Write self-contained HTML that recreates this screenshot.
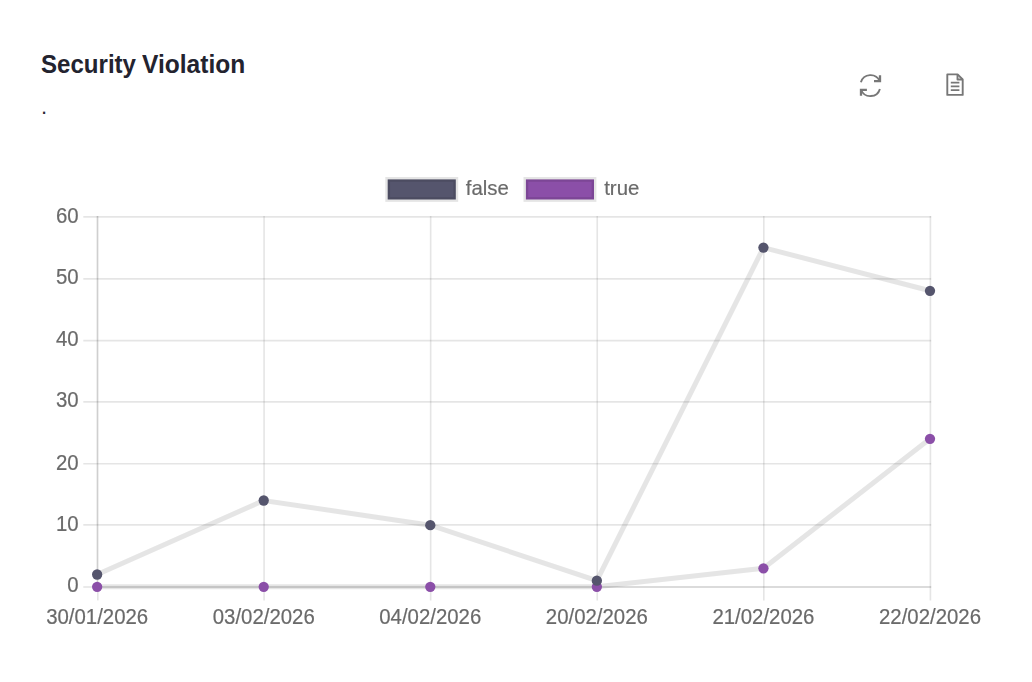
<!DOCTYPE html>
<html><head><meta charset="utf-8"><title>Security Violation</title>
<style>
html,body{margin:0;padding:0;background:#fff;}
body{width:1032px;height:682px;position:relative;overflow:hidden;font-family:"Liberation Sans",sans-serif;}
.chart{position:absolute;left:0;top:0;will-change:transform;}
.t{font-family:"Liberation Sans",sans-serif;font-size:20.4px;fill:#6a6a6a;stroke:#6a6a6a;stroke-width:0.2px;}
h1{position:absolute;left:0;top:0;margin:0;font-size:26.67px;line-height:32px;font-weight:bold;color:#23232f;white-space:nowrap;}
h1 span{position:absolute;top:48px;display:block;transform-origin:0 0;}
.w1{left:41.2px;transform:scaleX(0.903);}
.w2{left:142.4px;transform:scaleX(0.921);}
.dot{position:absolute;left:41px;top:92.2px;margin:0;font-size:22px;line-height:30px;color:#2a2a36;}
</style></head><body>
<h1><span class="w1">Security</span><span class="w2">Violation</span></h1>
<p class="dot">.</p>
<svg width="1032" height="682" viewBox="0 0 1032 682" class="chart">
<line x1="83.3" x2="96.67" y1="587.00" y2="587.00" stroke="rgba(0,0,0,0.1)" stroke-width="1.667"/>
<line x1="96.67" x2="931.23" y1="587.00" y2="587.00" stroke="rgba(0,0,0,0.19)" stroke-width="1.667"/>
<line x1="83.3" x2="931.23" y1="524.90" y2="524.90" stroke="rgba(0,0,0,0.1)" stroke-width="1.667"/>
<line x1="83.3" x2="931.23" y1="463.75" y2="463.75" stroke="rgba(0,0,0,0.1)" stroke-width="1.667"/>
<line x1="83.3" x2="931.23" y1="401.83" y2="401.83" stroke="rgba(0,0,0,0.1)" stroke-width="1.667"/>
<line x1="83.3" x2="931.23" y1="340.70" y2="340.70" stroke="rgba(0,0,0,0.1)" stroke-width="1.667"/>
<line x1="83.3" x2="931.23" y1="278.80" y2="278.80" stroke="rgba(0,0,0,0.1)" stroke-width="1.667"/>
<line x1="83.3" x2="931.23" y1="216.83" y2="216.83" stroke="rgba(0,0,0,0.1)" stroke-width="1.667"/>
<line x1="97.50" x2="97.50" y1="216.00" y2="587.83" stroke="rgba(0,0,0,0.19)" stroke-width="1.667"/>
<line x1="97.80" x2="97.80" y1="587.83" y2="600.4" stroke="rgba(0,0,0,0.1)" stroke-width="1.667"/>
<line x1="264.08" x2="264.08" y1="216.00" y2="600.4" stroke="rgba(0,0,0,0.1)" stroke-width="1.667"/>
<line x1="430.66" x2="430.66" y1="216.00" y2="600.4" stroke="rgba(0,0,0,0.1)" stroke-width="1.667"/>
<line x1="597.24" x2="597.24" y1="216.00" y2="600.4" stroke="rgba(0,0,0,0.1)" stroke-width="1.667"/>
<line x1="763.82" x2="763.82" y1="216.00" y2="600.4" stroke="rgba(0,0,0,0.1)" stroke-width="1.667"/>
<line x1="930.40" x2="930.40" y1="216.00" y2="600.4" stroke="rgba(0,0,0,0.1)" stroke-width="1.667"/>
<polyline points="97.15,586.85 263.72,586.85 430.29,586.85 596.86,586.85 763.43,568.35 930.00,438.82" fill="none" stroke="rgba(0,0,0,0.1)" stroke-width="5" stroke-linejoin="miter"/>
<circle cx="97.15" cy="586.85" r="5.15" fill="#8b4fa8"/>
<circle cx="263.72" cy="586.85" r="5.15" fill="#8b4fa8"/>
<circle cx="430.29" cy="586.85" r="5.15" fill="#8b4fa8"/>
<circle cx="596.86" cy="586.85" r="5.15" fill="#8b4fa8"/>
<circle cx="763.43" cy="568.35" r="5.15" fill="#8b4fa8"/>
<circle cx="930.00" cy="438.82" r="5.15" fill="#8b4fa8"/>
<polyline points="97.15,574.51 263.72,500.50 430.29,525.17 596.86,580.68 763.43,247.61 930.00,290.79" fill="none" stroke="rgba(0,0,0,0.1)" stroke-width="5" stroke-linejoin="miter"/>
<circle cx="97.15" cy="574.51" r="5.15" fill="#55556d"/>
<circle cx="263.72" cy="500.50" r="5.15" fill="#55556d"/>
<circle cx="430.29" cy="525.17" r="5.15" fill="#55556d"/>
<circle cx="596.86" cy="580.68" r="5.15" fill="#55556d"/>
<circle cx="763.43" cy="247.61" r="5.15" fill="#55556d"/>
<circle cx="930.00" cy="290.79" r="5.15" fill="#55556d"/>
<text transform="translate(78.7 591.60) scale(1 1.055)" text-anchor="end" class="t">0</text>
<text transform="translate(78.7 530.60) scale(1 1.055)" text-anchor="end" class="t">10</text>
<text transform="translate(78.7 469.60) scale(1 1.055)" text-anchor="end" class="t">20</text>
<text transform="translate(78.7 407.00) scale(1 1.055)" text-anchor="end" class="t">30</text>
<text transform="translate(78.7 345.60) scale(1 1.055)" text-anchor="end" class="t">40</text>
<text transform="translate(78.7 283.60) scale(1 1.055)" text-anchor="end" class="t">50</text>
<text transform="translate(78.7 222.60) scale(1 1.055)" text-anchor="end" class="t">60</text>
<text transform="translate(97.15 624.0) scale(1 1.055)" text-anchor="middle" class="t">30/01/2026</text>
<text transform="translate(263.72 624.0) scale(1 1.055)" text-anchor="middle" class="t">03/02/2026</text>
<text transform="translate(430.29 624.0) scale(1 1.055)" text-anchor="middle" class="t">04/02/2026</text>
<text transform="translate(596.86 624.0) scale(1 1.055)" text-anchor="middle" class="t">20/02/2026</text>
<text transform="translate(763.43 624.0) scale(1 1.055)" text-anchor="middle" class="t">21/02/2026</text>
<text transform="translate(930.00 624.0) scale(1 1.055)" text-anchor="middle" class="t">22/02/2026</text>
<rect x="387.7" y="179.4" width="68.1" height="20.1" fill="#55556d" stroke="rgba(0,0,0,0.1)" stroke-width="4.8"/>
<text transform="translate(465.8 195.3) scale(1 1.0)" class="t">false</text>
<rect x="525.9" y="179.4" width="68.1" height="20.1" fill="#8b4fa8" stroke="rgba(0,0,0,0.1)" stroke-width="4.8"/>
<text transform="translate(604.2 195.3) scale(1 1.0)" class="t">true</text>
<g fill="none" stroke="#777" stroke-width="1.9"><path d="M860.9 82.3 A10 10 0 0 1 879.7 81.2"/><path d="M880.0 75.2 V81.2 H874.0" stroke-width="2.3"/><path d="M879.9 88.9 A10 10 0 0 1 861.1 90"/><path d="M861.0 95.7 V89.9 H866.9" stroke-width="2.3"/></g>
<g fill="none" stroke="#777" stroke-width="1.9" stroke-linejoin="round"><path d="M947.3 74.4 H957.6 L962.7 79.5 V94.9 H947.3 Z"/><path d="M957.5 74.4 V79.5 H962.7"/><path d="M950.8 82.7 H959.4 M950.8 86.4 H959.4 M950.8 90.1 H959.4" stroke-width="1.7"/></g>
</svg>
</body></html>
